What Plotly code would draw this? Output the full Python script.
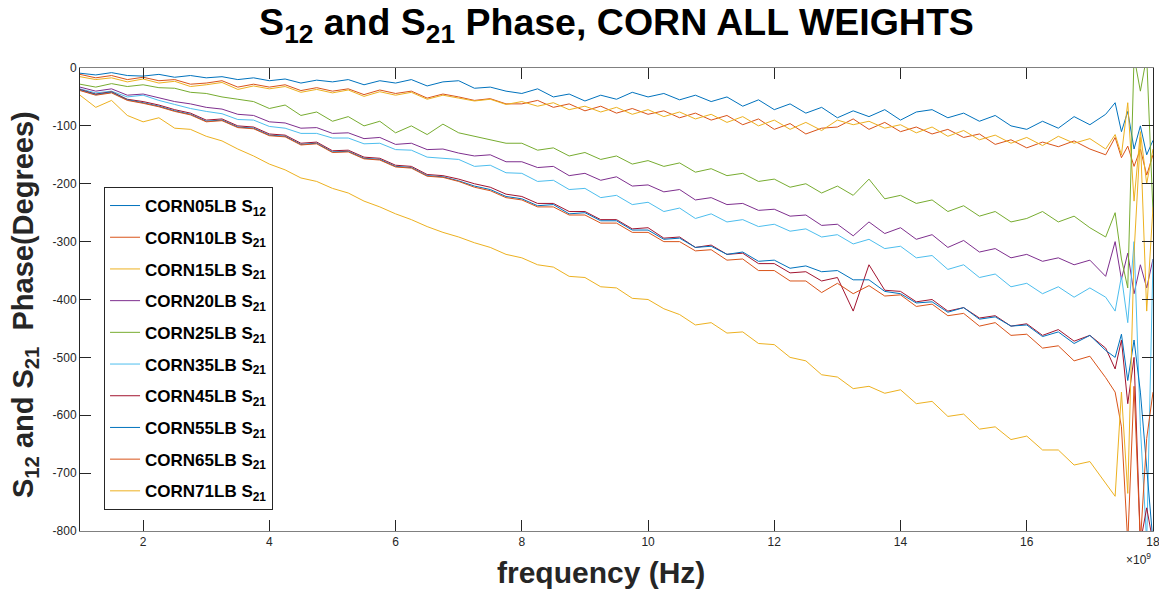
import plotly.graph_objects as go

# Frequency grid (GHz; axis shows Hz with a x10^9 multiplier)
freq_ghz = [1.00, 1.25, 1.50, 1.75, 2.00, 2.25, 2.50, 2.75, 3.00, 3.25, 3.50, 3.75,
            4.00, 4.25, 4.50, 4.75, 5.00, 5.25, 5.50, 5.75, 6.00, 6.25, 6.50, 6.75,
            7.00, 7.25, 7.50, 7.75, 8.00, 8.25, 8.50, 8.75, 9.00, 9.25, 9.50, 9.75,
            10.00, 10.25, 10.50, 10.75, 11.00, 11.25, 11.50, 11.75, 12.00, 12.25, 12.50, 12.75,
            13.00, 13.25, 13.50, 13.75, 14.00, 14.25, 14.50, 14.75, 15.00, 15.25, 15.50, 15.75,
            16.00, 16.25, 16.50, 16.75, 17.00, 17.25, 17.4, 17.5, 17.6, 17.7, 17.8, 17.9, 18.0]

corn05_s12 = [-9, -12, -8, -13, -14, -11, -16, -13, -17, -15, -20, -17,
              -22, -19, -26, -21, -24, -20, -29, -22, -26, -20, -31, -24,
              -22, -35, -33, -40, -44, -36, -50, -45, -57, -47, -54, -42,
              -50, -44, -55, -47, -58, -50, -66, -55, -72, -62, -78, -68,
              -86, -74, -84, -72, -90, -76, -72, -86, -78, -92, -82, -100,
              -106, -92, -104, -84, -98, -80, -60, -110, -75, -140, -100, -150, -125]

corn10_s21 = [-11, -17, -13, -20, -16, -22, -20, -28, -26, -22, -33, -28,
              -33, -29, -39, -34, -40, -36, -46, -38, -44, -40, -52, -45,
              -50, -56, -53, -62, -62, -56, -68, -62, -74, -66, -78, -70,
              -80, -74, -86, -78, -90, -82, -98, -88, -106, -96, -114, -104,
              -102, -88, -106, -94, -110, -102, -114, -106, -120, -114, -132, -124,
              -138, -128, -136, -126, -140, -150, -120, -155, -135, -170, -140, -185, -150]

corn15_s21 = [-15, -20, -17, -24, -19, -26, -23, -32, -29, -25, -37, -31,
              -36, -32, -42, -37, -43, -38, -49, -41, -47, -42, -54, -47,
              -52, -57, -54, -63, -58, -66, -60, -72, -66, -76, -68, -80,
              -72, -84, -76, -88, -80, -94, -84, -100, -90, -106, -94, -108,
              -90, -98, -92, -104, -98, -112, -102, -118, -108, -124, -116, -130,
              -120, -134, -118, -130, -122, -140, -115, -150, -60, -230, -110, -200, -140]

corn20_s21 = [-33, -40, -36, -47, -45, -52, -58, -62, -68, -71, -80, -82,
              -93, -95, -104, -103, -113, -112, -122, -120, -132, -130, -141, -140,
              -147, -152, -150, -162, -162, -172, -170, -186, -182, -194, -188, -204,
              -202, -214, -210, -228, -224, -236, -234, -246, -244, -256, -254, -272,
              -270, -290, -266, -286, -276, -296, -288, -310, -298, -318, -312, -328,
              -322, -334, -328, -340, -332, -360, -300, -365, -320, -390, -340, -380, -330]

corn25_s21 = [-28, -33, -27, -32, -29, -34, -35, -42, -44, -50, -54, -58,
              -70, -64, -82, -76, -92, -84, -100, -92, -112, -100, -115, -97,
              -112, -118, -124, -130, -130, -142, -138, -152, -146, -158, -152, -166,
              -160, -170, -164, -180, -174, -186, -182, -196, -192, -206, -200, -216,
              -204, -220, -192, -226, -220, -234, -228, -248, -238, -256, -248, -266,
              -260, -248, -266, -256, -276, -292, -250, -330, -380, 20, -40, 20, -250]

corn35_s21 = [-36, -43, -40, -50, -47, -56, -63, -70, -75, -79, -89, -90,
              -101, -104, -113, -113, -121, -121, -131, -130, -141, -142, -154, -156,
              -158, -170, -168, -181, -182, -196, -194, -210, -208, -224, -220, -236,
              -232, -248, -242, -260, -252, -266, -262, -274, -270, -282, -278, -292,
              -288, -304, -296, -312, -308, -328, -324, -348, -340, -362, -356, -378,
              -372, -390, -378, -396, -380, -396, -420, -360, -440, -300, -620, -820, -330]

corn45_s21 = [-37, -45, -41, -54, -58, -64, -72, -78, -90, -88, -100, -102,
              -114, -116, -130, -128, -143, -142, -154, -156, -168, -170, -184, -186,
              -192, -200, -206, -218, -222, -234, -234, -248, -248, -262, -262, -278,
              -276, -294, -292, -310, -306, -322, -320, -338, -338, -354, -352, -368,
              -362, -420, -340, -384, -386, -404, -400, -420, -414, -432, -428, -446,
              -442, -462, -452, -472, -462, -484, -520, -470, -580, -500, -820, -760, -820]

corn55_s21 = [-38, -46, -42, -55, -60, -66, -74, -80, -92, -90, -102, -104,
              -116, -118, -132, -130, -145, -144, -156, -158, -170, -172, -186, -188,
              -195, -204, -210, -222, -226, -238, -236, -252, -250, -264, -264, -280,
              -280, -296, -294, -310, -308, -322, -318, -334, -332, -346, -342, -352,
              -350, -366, -366, -386, -390, -406, -404, -422, -414, -434, -430, -446,
              -444, -464, -456, -476, -462, -488, -500, -460, -540, -470, -560, -700, -820]

corn65_s21 = [-39, -47, -43, -56, -61, -67, -75, -81, -93, -91, -103, -105,
              -117, -119, -133, -131, -146, -145, -157, -159, -171, -173, -187, -189,
              -196, -206, -212, -224, -228, -240, -240, -254, -254, -268, -268, -284,
              -284, -300, -300, -316, -314, -332, -330, -350, -350, -368, -368, -388,
              -372, -390, -376, -394, -392, -412, -408, -428, -424, -446, -440, -462,
              -460, -484, -480, -506, -498, -535, -560, -620, -820, -550, -820, -640, -560]

corn71_s21 = [-47, -68, -56, -82, -93, -86, -104, -106, -118, -126, -140, -152,
              -166, -176, -190, -196, -208, -216, -230, -240, -252, -262, -274, -284,
              -292, -302, -310, -322, -328, -340, -344, -360, -362, -378, -380, -398,
              -400, -416, -426, -444, -440, -458, -456, -476, -478, -500, -506, -530,
              -534, -554, -550, -562, -556, -580, -576, -602, -598, -624, -620, -642,
              -636, -660, -660, -686, -680, -718, -740, -560, -735, -320, -120, -420, -240]

series_names = ["CORN05LB S<sub>12</sub>", "CORN10LB S<sub>21</sub>", "CORN15LB S<sub>21</sub>",
                "CORN20LB S<sub>21</sub>", "CORN25LB S<sub>21</sub>", "CORN35LB S<sub>21</sub>",
                "CORN45LB S<sub>21</sub>", "CORN55LB S<sub>21</sub>", "CORN65LB S<sub>21</sub>",
                "CORN71LB S<sub>21</sub>"]
series_values = [corn05_s12, corn10_s21, corn15_s21, corn20_s21, corn25_s21,
                 corn35_s21, corn45_s21, corn55_s21, corn65_s21, corn71_s21]

x_ticks = [2, 4, 6, 8, 10, 12, 14, 16, 18]
x_tick_labels = ["2", "4", "6", "8", "10", "12", "14", "16", "18"]
y_ticks = [0, -100, -200, -300, -400, -500, -600, -700, -800]
y_tick_labels = ["0", "-100", "-200", "-300", "-400", "-500", "-600", "-700", "-800"]

# MATLAB default line colour order
colors = ["#0072BD", "#D95319", "#EDB120", "#7E2F8E", "#77AC30",
          "#4DBEEE", "#A2142F", "#0072BD", "#D95319", "#EDB120"]

fig = go.Figure()
for i, (name, vals) in enumerate(zip(series_names, series_values)):
    fig.add_trace(go.Scatter(
        x=freq_ghz, y=vals, mode="lines", name=name,
        legendgroup=f"g{i}",
        line=dict(color=colors[i], width=1),
    ))

axis_font = dict(family="Liberation Sans, Arial, sans-serif", size=12, color="#262626")

fig.update_layout(
    width=1159, height=590,
    margin=dict(l=80, r=6, t=68, b=59),
    paper_bgcolor="white", plot_bgcolor="white",
    title=dict(
        text="S<sub>12</sub> and S<sub>21</sub> Phase, CORN ALL WEIGHTS",
        font=dict(family="Liberation Sans Narrow, Arial Narrow, Liberation Sans, sans-serif",
                  size=37.5, color="black", weight="bold"),
        x=0.5, xref="paper", xanchor="center",
        y=0.985, yref="container", yanchor="top",
    ),
    xaxis=dict(
        range=[1, 18], tickvals=x_ticks, ticktext=x_tick_labels,
        ticks="inside", ticklen=11, tickwidth=1, tickcolor="#262626",
        showline=True, linecolor="#808080", linewidth=1, mirror="allticks",
        showgrid=False, zeroline=False, tickfont=axis_font,
        ticklabeloverflow="allow", automargin=False,
    ),
    yaxis=dict(
        range=[-800, 0], tickvals=y_ticks, ticktext=y_tick_labels,
        ticks="inside", ticklen=11, tickwidth=1, tickcolor="#262626",
        showline=True, linecolor="#262626", linewidth=1, mirror="allticks",
        showgrid=False, zeroline=False, tickfont=axis_font, automargin=False,
    ),
    legend=dict(
        x=0.0224, y=0.743, xanchor="left", yanchor="top",
        bgcolor="white", bordercolor="#262626", borderwidth=1,
        font=dict(family="Liberation Sans, Arial, sans-serif", size=17,
                  color="black", weight="bold"),
        tracegroupgap=6.6, itemwidth=30,
    ),
    showlegend=True,
)

fig.add_annotation(
    text="frequency (Hz)", xref="paper", yref="paper",
    x=0.4856, y=-0.0886, xanchor="center", yanchor="middle", showarrow=False,
    font=dict(family="Liberation Sans, Arial, sans-serif", size=30,
              color="#262626", weight="bold"),
)
fig.add_annotation(
    text="S<sub>12</sub> and S<sub>21</sub>  Phase(Degrees)", xref="paper", yref="paper",
    x=-0.0513, y=0.49, xanchor="center", yanchor="middle", textangle=-90,
    showarrow=False,
    font=dict(family="Liberation Sans, Arial, sans-serif", size=29,
              color="#262626", weight="bold"),
)
fig.add_annotation(
    text="×10<sup>9</sup>", xref="paper", yref="paper",
    x=1.0, y=-0.06, xanchor="right", yanchor="middle", showarrow=False,
    font=dict(family="Liberation Sans, Arial, sans-serif", size=12, color="#262626"),
)

fig.write_html("out.html")
